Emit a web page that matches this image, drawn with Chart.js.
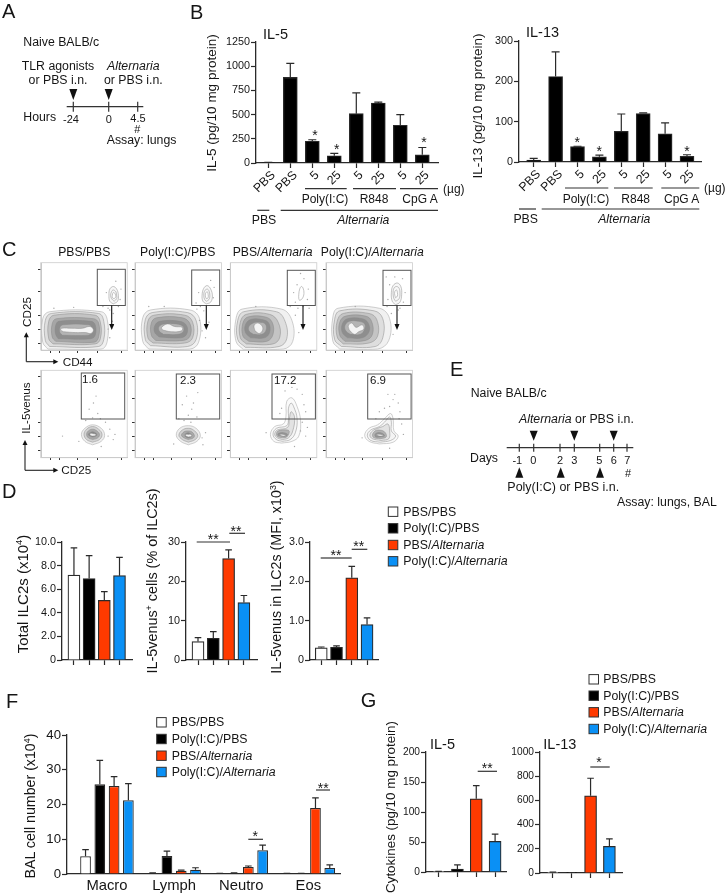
<!DOCTYPE html>
<html>
<head>
<meta charset="utf-8">
<title>Figure</title>
<script src="https://cdn.jsdelivr.net/npm/chart.js@4"></script>
<style>
  html, body { margin: 0; background: #fff; }
  #page { position: relative; width: 728px; height: 896px; overflow: hidden; font-family: "Liberation Sans", Arial, sans-serif; color: #151515; }
  #page canvas { position: absolute; }
  #page canvas.facs { filter: blur(0.45px); }
  #page svg { position: absolute; left: 0; top: 0; }
  .t { position: absolute; white-space: nowrap; line-height: 1; }
  sup { font-size: .62em; line-height: 0; vertical-align: .55em; }
</style>
</head>
<body>
<div id="page"></div>
<script>
// panel B
var doseLabels = ['PBS', 'PBS', '5', '25', '5', '25', '5', '25'];
var il5Values = [5, 885, 225, 75, 510, 620, 390, 85];
var il5Errors = [8, 1030, 240, 100, 725, 628, 500, 160];
var il5Ticks = ['0', '250', '500', '750', '1000', '1250'];
var il13Values = [5, 212, 38, 13, 76, 120, 70, 14];
var il13Errors = [9, 273, 39, 17, 119, 122, 97, 18];
var il13Ticks = ['0', '100', '200', '300'];

// panel D
var totalValues = [7.2, 6.9, 5.05, 7.15];
var totalErrors = [9.5, 8.85, 5.8, 8.7];
var totalTicks = ['0', '2.0', '4.0', '6.0', '8.0', '10.0'];
var percentValues = [4.7, 5.5, 25.8, 14.6];
var percentErrors = [5.7, 7.2, 28, 16.4];
var percentTicks = ['0', '10', '20', '30'];
var mfiValues = [0.31, 0.32, 2.09, 0.9];
var mfiErrors = [0.33, 0.36, 2.38, 1.07];
var mfiTicks = ['0', '1.0', '2.0', '3.0'];

// panel F
var balLabels = ['Macro', 'Lymph', 'Neutro', 'Eos'];
var balPbsPbs = [5.1, 0.2, 0.1, 0.1];
var balPbsPbsErr = [7, 0.3, 0.2, 0.2];
var balPolyPbs = [25.8, 5.2, 0.2, 0.1];
var balPolyPbsErr = [32.7, 6.6, 0.3, 0.2];
var balPbsAlt = [25.3, 0.9, 2, 19];
var balPbsAltErr = [28, 1.1, 2.3, 21.9];
var balPolyAlt = [21.2, 1.2, 6.8, 1.7];
var balPolyAltErr = [26, 1.8, 8.3, 2.6];
var balTicks = ['0', '10', '20', '30', '40'];

// panel G
var g5Values = [0.5, 5, 122, 51];
var g5Errors = [1, 12, 144, 63];
var g5Ticks = ['0', '50', '100', '150', '200'];
var g13Values = [5, 2, 638, 220];
var g13Errors = [8, 4, 783, 282];
var g13Ticks = ['0', '200', '400', '600', '800', '1000'];

// panel C, gate contours (percent of the frame)
var facsTicksX = [11, 22, 42, 66, 94];
var facsTicksY = [8, 24, 40, 67, 92];

var cd44Plot1 = [
  [[8,1],[70,1],[77,10],[77,35],[70,44],[10,44],[2,36],[2,9]],
  [[10,4],[67,4],[73,12],[73,33],[67,42],[12,42],[5,34],[5,11]],
  [[14,7],[63,7],[69,13],[69,32],[63,40],[15,40],[9,33],[9,13]],
  [[17,10],[62,9],[67,15],[67,31],[61,36],[18,36],[13,30],[13,15]],
  [[20,13],[58,13],[63,17],[63,29],[58,33],[21,33],[17,28],[17,18]],
  [[25,17],[55,17],[59,20],[59,26],[55,29],[26,29],[22,26],[22,20]],
  [[26,21],[40,20],[52,20],[58,19],[61,23],[57,27],[48,25],[36,25],[24,25],[23,23]]
];
var cd44Plot2 = [
  [[16,1],[64,1],[74,9],[75,36],[64,46],[18,46],[9,37],[9,10]],
  [[18,5],[61,4],[71,12],[71,34],[61,43],[20,43],[12,35],[12,12]],
  [[21,8],[58,8],[67,14],[67,32],[58,40],[22,40],[15,33],[15,14]],
  [[24,11],[56,11],[64,16],[64,30],[55,37],[25,37],[19,31],[19,17]],
  [[28,15],[53,14],[60,18],[60,28],[52,33],[29,33],[23,28],[23,20]],
  [[33,18],[50,18],[56,21],[56,27],[48,30],[34,30],[28,27],[28,22]],
  [[32,23],[42,21],[54,22],[55,26],[46,27],[38,30],[31,26]]
];
var cd44Plot3 = [
  [[16,0],[62,1],[73,10],[72,34],[60,47],[14,47],[7,36],[7,10]],
  [[18,3],[57,4],[66,13],[64,33],[54,44],[16,44],[9,34],[9,12]],
  [[19,7],[50,7],[58,15],[56,32],[46,41],[19,41],[12,32],[12,14]],
  [[22,10],[43,10],[50,18],[49,32],[41,38],[21,38],[15,31],[15,16]],
  [[24,14],[40,14],[46,20],[45,31],[37,35],[24,35],[18,29],[18,20]],
  [[27,18],[37,18],[42,23],[41,30],[34,32],[27,31],[22,27],[22,22]],
  [[29,22],[34,19],[38,23],[37,28],[32,31],[28,28]]
];
var cd44Plot4 = [
  [[16,1],[60,1],[73,11],[74,36],[62,48],[14,48],[8,38],[8,10]],
  [[18,4],[57,4],[66,14],[66,36],[56,45],[16,45],[10,35],[10,12]],
  [[20,7],[50,8],[60,16],[59,35],[50,42],[20,42],[13,33],[13,15]],
  [[22,10],[46,11],[54,18],[53,33],[46,39],[23,39],[16,32],[16,17]],
  [[25,14],[42,14],[50,21],[49,31],[42,36],[25,36],[19,30],[19,20]],
  [[28,18],[40,18],[45,24],[45,30],[38,33],[27,33],[22,28],[23,22]],
  [[27,23],[33,18],[38,21],[44,24],[42,29],[35,26],[30,31],[26,28]]
];
var cd44Gates = [
  [[[84,53],[89,56],[90,63],[88,70],[84,73],[80,70],[79,63],[80,56]],
   [[85,56],[88,59],[88,63],[87,67],[84,69],[82,67],[81,63],[82,59]],
   [[85,59],[87,61],[86,65],[84,66],[83,63],[83,60]]],
  [[[83,53],[88,55],[90,62],[88,70],[84,74],[80,71],[78,63],[79,56]],
   [[83,56],[86,58],[87,63],[86,68],[84,70],[81,68],[80,63],[81,58]],
   [[83,59],[85,60],[85,64],[84,67],[82,65],[82,61]]],
  [[[81,57],[84,59],[86,65],[85,71],[83,73],[81,70],[80,64],[80,59]]],
  [[[81,52],[86,55],[88,64],[87,73],[83,77],[78,74],[76,66],[77,56]],
   [[81,56],[85,59],[86,65],[85,71],[82,73],[79,71],[78,65],[79,59]],
   [[81,60],[83,62],[83,66],[82,69],[80,67],[80,63]]]
];
var cd44Dots = [
  [[72,50],[78,48],[92,58],[90,50],[76,66],[93,70],[87,79],[80,46],[84,42],[38,49],[15,48],[84,28],[80,14],[78,24],[83,33]],
  [[71,54],[76,50],[91,60],[72,47],[74,66],[92,72],[88,80],[80,45],[34,50],[16,50],[78,22],[82,14],[86,32],[75,34]],
  [[76,55],[90,58],[78,75],[86,82],[74,66],[91,70],[70,50],[85,50],[79,48],[82,88],[92,48],[80,20],[76,40],[30,50]],
  [[72,58],[90,55],[74,75],[89,82],[92,66],[71,50],[86,48],[80,84],[76,42],[84,46],[78,18],[34,50],[70,84]]
];

var venusPlot1 = [
  [[60,14],[70,18],[74,25],[70,33],[60,37],[51,33],[47,26],[51,18]],
  [[60,17],[68,20],[71,26],[67,32],[60,35],[53,32],[50,26],[53,20]],
  [[60,20],[66,22],[68,26],[65,30],[60,32],[55,30],[53,26],[55,22]],
  [[60,23],[64,24],[65,26],[63,28],[60,29],[57,28],[55,26],[57,24]],
  [[57,25],[60,24],[64,25],[64,26],[60,27],[57,27]]
];
var venusPlot2 = [
  [[62,14],[72,18],[76,25],[71,33],[62,36],[52,33],[48,25],[53,18]],
  [[62,17],[70,20],[73,25],[68,31],[62,33],[55,31],[51,25],[55,20]],
  [[62,20],[68,22],[69,25],[66,29],[62,30],[57,29],[54,25],[57,22]],
  [[62,22],[65,23],[66,25],[64,27],[62,28],[59,27],[58,25],[59,23]],
  [[59,24],[62,23],[66,24],[65,26],[62,26],[59,26]]
];
var venusPlot3 = [
  [[60,16],[72,18],[80,24],[82,42],[78,58],[72,68],[66,64],[65,46],[62,38],[52,35],[47,26],[51,18]],
  [[61,18],[70,20],[76,28],[78,44],[74,58],[71,62],[68,56],[68,44],[66,36],[54,33],[50,26],[54,20]],
  [[61,20],[68,22],[73,30],[75,46],[71,52],[69,44],[67,34],[55,31],[52,26],[55,22]],
  [[61,22],[66,23],[69,29],[67,31],[56,30],[54,26],[56,23]],
  [[60,24],[65,24],[67,26],[62,28],[56,27],[56,25]],
  [[58,25],[62,24],[65,25],[62,26],[58,26]]
];
var venusPlot4 = [
  [[62,15],[78,17],[84,24],[79,30],[78,44],[75,50],[68,44],[60,37],[50,33],[45,25],[50,18]],
  [[63,17],[75,19],[81,24],[76,30],[76,40],[74,46],[68,40],[62,35],[52,31],[48,25],[52,19]],
  [[64,19],[73,21],[74,30],[72,38],[66,35],[60,33],[54,30],[51,25],[54,21]],
  [[63,21],[70,23],[68,29],[60,31],[56,29],[54,25],[56,22]],
  [[63,23],[68,24],[66,27],[60,28],[57,26],[58,23]],
  [[59,25],[63,24],[67,25],[64,26],[59,26]]
];
var venusDots = [
  [[61,62],[56,55],[66,50],[60,45],[69,44],[52,42],[75,40],[64,70],[78,24],[84,20],[80,32],[86,26],[25,24],[44,18],[70,12]],
  [[60,70],[55,60],[66,55],[62,48],[72,46],[51,44],[57,42],[68,62],[65,40],[78,22],[82,28],[73,74],[45,15],[79,14]],
  [[78,78],[84,72],[72,80],[86,60],[88,52],[60,56],[84,40],[90,34],[82,30],[88,24],[58,50],[42,28],[75,12],[64,76]],
  [[78,66],[84,62],[72,72],[74,58],[68,56],[86,52],[62,52],[88,38],[90,26],[85,44],[58,44],[74,10],[42,22],[80,72]]
];

var ringFills = ['#f1f1f1', '#dedede', '#c4c4c4', '#a6a6a6', '#8e8e8e', '#b4b4b4', '#f4f4f4'];
var venusFills = ['#eeeeee', '#d2d2d2', '#a8a8a8', '#868686', '#f0f0f0'];
var tailFills = ['#fafafa', '#f4f4f4', '#e2e2e2', '#b2b2b2', '#949494', '#f0f0f0'];

var WHITE = '#ffffff', BLACK = '#000000', RED = '#ff3a00', BLUE = '#0a90f5', INK = '#2a2a2a';
var groupColors = [WHITE, BLACK, RED, BLUE];

var page = document.getElementById('page');
Chart.defaults.font.family = '"Liberation Sans", Arial, sans-serif';
Chart.defaults.color = '#151515';

Chart.register({
  id: 'errorBars',
  afterDatasetsDraw: function (chart) {
    var ctx = chart.ctx;
    chart.data.datasets.forEach(function (ds, d) {
      if (!ds.errors) return;
      chart.getDatasetMeta(d).data.forEach(function (bar, i) {
        var py = chart.scales.y.getPixelForValue(ds.errors[i]);
        ctx.save();
        ctx.strokeStyle = INK;
        ctx.lineWidth = 1.2;
        ctx.beginPath();
        ctx.moveTo(bar.x, bar.y);
        ctx.lineTo(bar.x, py);
        ctx.moveTo(bar.x - ds.cap, py);
        ctx.lineTo(bar.x + ds.cap, py);
        ctx.stroke();
        ctx.restore();
      });
    });
  }
});

function addCanvas(left, top, w, h) {
  var c = document.createElement('canvas');
  c.width = w; c.height = h;
  c.style.left = left + 'px';
  c.style.top = top + 'px';
  page.appendChild(c);
  return c;
}

// o.x0/x1/top/bottom are the page pixels of the plot, c0 and band place the bars on it
function barPanel(o) {
  var AXW = 40, PADT = 10, PADR = 14, BOT = o.bot || 12;
  var c = addCanvas(o.x0 - AXW, o.top - PADT, o.x1 - o.x0 + AXW + PADR, o.bottom - o.top + PADT + BOT);
  var labels = o.labels;
  var datasets = o.series.map(function (s) {
    var d = {
      data: s.values.map(function (v, i) { return { x: i, y: v }; }),
      errors: s.errors,
      cap: o.cap,
      backgroundColor: s.color,
      borderColor: INK,
      borderWidth: 1.2
    };
    if (o.barW) d.barThickness = o.barW;
    else { d.categoryPercentage = o.catPct; d.barPercentage = o.barPct; }
    return d;
  });
  new Chart(c, {
    type: 'bar',
    data: { datasets: datasets },
    options: {
      responsive: false,
      animation: false,
      layout: { padding: { top: PADT, right: PADR, left: 0, bottom: 0 } },
      plugins: { legend: { display: false }, tooltip: { enabled: false } },
      scales: {
        x: {
          type: 'linear',
          offset: false,
          min: (o.x0 - o.c0) / o.band,
          max: (o.x1 - o.c0) / o.band,
          afterBuildTicks: function (s) {
            s.ticks = o.series[0].values.map(function (v, i) { return { value: i }; });
          },
          afterFit: function (s) { s.height = BOT; },
          border: { color: INK, width: 1.3 },
          grid: { offset: false, drawOnChartArea: false, drawTicks: !o.noTicks, tickLength: 5, tickColor: INK, tickWidth: 1.2 },
          ticks: {
            display: !!labels,
            autoSkip: false,
            padding: o.xPad || 0,
            labelOffset: o.rot ? 5 : 0,
            minRotation: o.rot || 0,
            maxRotation: o.rot || 0,
            font: { size: o.xSize || 12.3 },
            callback: function (v) { return labels ? labels[v] : ''; }
          }
        },
        y: {
          min: 0,
          max: o.yMax,
          afterFit: function (s) { s.width = AXW; },
          border: { color: INK, width: 1.3 },
          grid: { drawOnChartArea: false, tickLength: 5, tickColor: INK, tickWidth: 1.2 },
          ticks: {
            stepSize: o.yMax / (o.ticks.length - 1),
            padding: 1,
            font: { size: o.ySize || 10.8 },
            callback: function (v, i) { return o.ticks[i]; }
          }
        }
      }
    }
  });
}

function facsPlot(left, top, w, h, rings, fills, extra, dots) {
  var M = 6;
  var c = addCanvas(left - M, top - M, w + 2 * M, h + 2 * M);
  c.className = 'facs';
  var sets = [];
  var add = function (pts, fill, line, order) {
    sets.push({
      data: pts.concat([pts[0]]).map(function (p) { return { x: p[0], y: p[1] }; }),
      showLine: true, tension: 0.4, pointRadius: 0,
      borderWidth: 0.5, borderColor: line,
      backgroundColor: fill, fill: 'shape', order: order
    });
  };
  rings.forEach(function (r, i) { add(r, fills[i], i === 0 ? '#a0a0a0' : '#888888', 40 - i); });
  extra.forEach(function (r, i) { add(r, i === extra.length - 1 ? '#ffffff' : '#f7f7f7', '#8a8a8a', 10 - i); });
  sets.push({
    data: dots.map(function (p) { return { x: p[0], y: p[1] }; }),
    pointRadius: 0.7, pointBackgroundColor: '#a8a8a8', pointBorderWidth: 0, order: 0
  });
  var marks = function (vals) {
    return function (s) { s.ticks = vals.map(function (v) { return { value: v }; }); };
  };
  var axis = function (vals, key) {
    var cfg = {
      min: 0, max: 100,
      afterBuildTicks: marks(vals),
      border: { color: '#c8c8c8', width: 1 },
      grid: { drawOnChartArea: false, tickLength: 3, tickColor: '#333333', tickWidth: 1 },
      ticks: { display: false }
    };
    cfg.afterFit = function (s) { if (key === 'x') s.height = M; else s.width = M; };
    return cfg;
  };
  new Chart(c, {
    type: 'scatter',
    data: { datasets: sets },
    options: {
      responsive: false,
      animation: false,
      layout: { padding: { top: M, right: M, left: 0, bottom: 0 } },
      plugins: { legend: { display: false }, tooltip: { enabled: false } },
      scales: { x: axis(facsTicksX, 'x'), y: axis(facsTicksY, 'y') }
    }
  });
}

// ---- bars
function one(values, errors) {
  return [{ values: values, errors: errors, color: groupColors }];
}
barPanel({ x0: 256, x1: 438, top: 41.7, bottom: 163, yMax: 1250, ticks: il5Ticks, labels: doseLabels, rot: 45, bot: 40,
  c0: 268.3, band: 22, barW: 14, cap: 4, series: [{ values: il5Values, errors: il5Errors, color: BLACK }] });
barPanel({ x0: 519, x1: 701, top: 40.7, bottom: 162.3, yMax: 300, ticks: il13Ticks, labels: doseLabels, rot: 45, bot: 40,
  c0: 533.7, band: 21.9, barW: 14, cap: 4, series: [{ values: il13Values, errors: il13Errors, color: BLACK }] });

barPanel({ x0: 61.7, x1: 132, top: 542.3, bottom: 660.3, yMax: 10, ticks: totalTicks, c0: 73.7, band: 15.25, barW: 12, cap: 3.3, series: one(totalValues, totalErrors) });
barPanel({ x0: 186, x1: 257, top: 542, bottom: 660.3, yMax: 30, ticks: percentTicks, c0: 198, band: 15.3, barW: 12, cap: 3.3, series: one(percentValues, percentErrors) });
barPanel({ x0: 310, x1: 378.3, top: 541.7, bottom: 660, yMax: 3, ticks: mfiTicks, c0: 321.3, band: 15.33, barW: 12, cap: 3.3, series: one(mfiValues, mfiErrors) });

barPanel({ x0: 66.7, x1: 340, top: 735, bottom: 874.3, yMax: 40, ticks: balTicks, labels: balLabels, ySize: 13.2, xSize: 14.8, bot: 24, noTicks: true, xPad: 3,
  c0: 106.7, band: 67.2, catPct: 0.851, barPct: 0.75, cap: 3.3,
  series: [
    { values: balPbsPbs, errors: balPbsPbsErr, color: WHITE },
    { values: balPolyPbs, errors: balPolyPbsErr, color: BLACK },
    { values: balPbsAlt, errors: balPbsAltErr, color: RED },
    { values: balPolyAlt, errors: balPolyAltErr, color: BLUE }
  ] });

barPanel({ x0: 426, x1: 506.7, top: 752, bottom: 872.7, yMax: 200, ticks: g5Ticks, ySize: 10.2, c0: 438.7, band: 19, barW: 12, cap: 3.3, series: one(g5Values, g5Errors) });
barPanel({ x0: 540, x1: 622.7, top: 752, bottom: 873, yMax: 1000, ticks: g13Ticks, ySize: 10.2, c0: 553, band: 19, barW: 12, cap: 3.3, series: one(g13Values, g13Errors) });

// ---- facs plots
var rowTopY = 262.7, rowBotY = 370.3, frameW = 86.5, frameH = 87.4;
var frameX = [40.7, 135, 230.3, 326];
var topRings = [cd44Plot1, cd44Plot2, cd44Plot3, cd44Plot4];
var botRings = [venusPlot1, venusPlot2, venusPlot3, venusPlot4];
frameX.forEach(function (x, i) {
  facsPlot(x, rowTopY, frameW, frameH, topRings[i], ringFills, cd44Gates[i], cd44Dots[i]);
  facsPlot(x, rowBotY, frameW, frameH, botRings[i], i < 2 ? venusFills : tailFills, [], venusDots[i]);
});

// ---- overlay
var NS = 'http://www.w3.org/2000/svg';
var svg = document.createElementNS(NS, 'svg');
svg.setAttribute('width', 728);
svg.setAttribute('height', 896);
page.appendChild(svg);
function el(name, attrs) {
  var e = document.createElementNS(NS, name);
  for (var k in attrs) e.setAttribute(k, attrs[k]);
  svg.appendChild(e);
}
function line(x1, y1, x2, y2, color, w) {
  el('line', { x1: x1, y1: y1, x2: x2, y2: y2, stroke: color || '#333', 'stroke-width': w || 1.2 });
}
function box(x1, y1, x2, y2, color, w, fill) {
  el('rect', { x: x1, y: y1, width: x2 - x1, height: y2 - y1, stroke: color || '#333', 'stroke-width': w || 1.2, fill: fill || 'none' });
}
function tri(pts) {
  el('polygon', { points: pts, fill: '#111' });
}
function down(x, y1, y2) { tri((x - 4) + ',' + y1 + ' ' + (x + 4) + ',' + y1 + ' ' + x + ',' + y2); }
function up(x, y1, y2) { tri((x - 4) + ',' + y2 + ' ' + (x + 4) + ',' + y2 + ' ' + x + ',' + y1); }
function T(x, y, html, size, opt) {
  opt = opt || {};
  var d = document.createElement('div');
  d.className = 't';
  d.innerHTML = html;
  d.style.left = x + 'px';
  d.style.top = y + 'px';
  d.style.fontSize = size + 'px';
  d.style.transform = opt.r ? 'translate(-50%,-50%) rotate(-90deg)' : (opt.c ? 'translate(-50%,-50%)' : 'translateY(-50%)');
  page.appendChild(d);
}
function star(x, y, s) { T(x, y + 3, s, 14, { c: 1 }); }
function sig(x1, x2, y, s, sx, sy) { line(x1, y, x2, y); star(sx, sy, s); }

// panel letters
T(2, 11, 'A', 20); T(190, 11.7, 'B', 20); T(2, 249.3, 'C', 20); T(2, 490.7, 'D', 20);
T(450, 369, 'E', 20); T(6, 700.7, 'F', 20); T(360.7, 700, 'G', 20);

// panel A
var S = 12.3;
T(23.3, 42, 'Naive BALB/c', S);
T(58, 65.7, 'TLR agonists', S, { c: 1 }); T(58, 79.7, 'or PBS i.n.', S, { c: 1 });
T(133.3, 66, '<i>Alternaria</i>', S, { c: 1 }); T(133.3, 80, 'or PBS i.n.', S, { c: 1 });
down(73.3, 89, 100); down(108.7, 89, 100);
line(66.7, 106.7, 143.3, 106.7);
[73.3, 108.7, 137.7].forEach(function (x) { line(x, 101.7, x, 111.7); });
T(23.3, 117.3, 'Hours', S);
T(71, 118.7, '-24', 11, { c: 1 }); T(108.7, 118.7, '0', 11, { c: 1 }); T(138, 118, '4.5', 11, { c: 1 });
T(137.3, 129.3, '#', 11, { c: 1 });
T(106.7, 140, 'Assay: lungs', S);

// panel B
T(263, 34.3, 'IL-5', 14.5); T(526, 31.7, 'IL-13', 14.5);
T(212, 103, 'IL-5 (pg/10 mg protein)', 13.5, { r: 1 });
T(478.3, 105.8, 'IL-13 (pg/10 mg protein)', 13.5, { r: 1 });
star(315, 132, '*'); star(336.7, 145.7, '*'); star(424, 139.3, '*');
star(577.3, 139.3, '*'); star(599.3, 147.7, '*'); star(687, 147.7, '*');
[[305, 346.7], [353, 396], [400, 438]].forEach(function (p) { line(p[0], 188.7, p[1], 188.7); });
[[565, 608.3], [614, 652.7], [661.3, 699.3]].forEach(function (p) { line(p[0], 188, p[1], 188); });
T(325, 199.3, 'Poly(I:C)', 12, { c: 1 }); T(374, 199.3, 'R848', 12, { c: 1 }); T(420, 199.3, 'CpG A', 12, { c: 1 });
T(586, 198.7, 'Poly(I:C)', 12, { c: 1 }); T(635.7, 198.7, 'R848', 12, { c: 1 }); T(681.7, 198.7, 'CpG A', 12, { c: 1 });
T(443, 188.7, '(µg)', 12); T(704, 188, '(µg)', 12);
line(257.3, 210.3, 269.3, 210.3); line(280.7, 210.3, 438, 210.3);
line(519, 209, 536, 209); line(541.7, 209, 699.3, 209);
T(264, 219.7, 'PBS', 12.3, { c: 1 }); T(363.3, 219.7, '<i>Alternaria</i>', 12.2, { c: 1 });
T(525.7, 218.7, 'PBS', 12.3, { c: 1 }); T(624.3, 218.7, '<i>Alternaria</i>', 12.2, { c: 1 });

// panel C
T(84.3, 251.7, 'PBS/PBS', 12.2, { c: 1 }); T(177.7, 251.7, 'Poly(I:C)/PBS', 12.2, { c: 1 });
T(272.7, 251.7, 'PBS/<i>Alternaria</i>', 12.2, { c: 1 }); T(372.3, 251.7, 'Poly(I:C)/<i>Alternaria</i>', 12.2, { c: 1 });
frameX.forEach(function (x) {
  box(x, rowTopY, x + frameW, rowTopY + frameH, '#cccccc', 0.8);
  box(x, rowBotY, x + frameW, rowBotY + frameH, '#cccccc', 0.8);
});
[[97.3, 269.3, 111.7], [191.7, 270, 206.3], [287.3, 270.3, 303], [383, 270.3, 397]].forEach(function (g) {
  box(g[0], g[1], g[0] + 28, 305.5, '#555', 1);
  line(g[2], 305.5, g[2], 325, '#111', 1.1);
  tri((g[2] - 2.5) + ',324 ' + (g[2] + 2.5) + ',324 ' + g[2] + ',330');
});
[[81.3, 373], [176.3, 374], [272, 374], [367.7, 374]].forEach(function (g) {
  box(g[0], g[1], g[0] + 43.4, 419, '#555', 1);
});
T(82, 380, '1.6', 11.5); T(180, 381, '2.3', 11.5); T(274, 381, '17.2', 11.5); T(370, 381, '6.9', 11.5);
function facsAxes(x, yTop, yCorner, xEnd) {
  line(x, yTop + 4, x, yCorner, '#222', 1.1);
  line(x, yCorner, xEnd - 4, yCorner, '#222', 1.1);
  tri((x - 2.5) + ',' + (yTop + 5) + ' ' + (x + 2.5) + ',' + (yTop + 5) + ' ' + x + ',' + yTop);
  tri((xEnd - 5) + ',' + (yCorner - 2.5) + ' ' + (xEnd - 5) + ',' + (yCorner + 2.5) + ' ' + xEnd + ',' + yCorner);
}
facsAxes(26.3, 332.3, 361.7, 58.3); facsAxes(25, 440, 470.3, 58.3);
T(26.7, 311.7, 'CD25', 11.7, { r: 1 }); T(62.7, 361.7, 'CD44', 11.7);
T(26, 408.3, 'IL-5venus', 11.7, { r: 1 }); T(61.3, 470, 'CD25', 11.7);

// panel D
T(22, 594, 'Total ILC2s (x10<sup>4</sup>)', 15, { r: 1 });
T(151.7, 581, 'IL-5venus<sup>+</sup> cells (% of ILC2s)', 14.4, { r: 1 });
T(276, 577, 'IL-5venus in ILC2s (MFI, x10<sup>3</sup>)', 14.3, { r: 1 });
sig(196.7, 230, 542, '**', 213.3, 536); sig(229.3, 245, 533.3, '**', 236, 527.7);
sig(320.7, 351.7, 558, '**', 336, 551.7); sig(351.7, 367.3, 549.3, '**', 358.7, 543.3);
function legend(sx, tx, ys, size) {
  var names = ['PBS/PBS', 'Poly(I:C)/PBS', 'PBS/<i>Alternaria</i>', 'Poly(I:C)/<i>Alternaria</i>'];
  ys.forEach(function (y, i) {
    box(sx, y - 4.7, sx + 9.5, y + 4.7, '#333', 1, groupColors[i]);
    T(tx, y, names[i], size);
  });
}
legend(388.3, 403.3, [511.7, 528.3, 545, 561.3], 12.35);

// panel E
T(470.7, 393, 'Naive BALB/c', S);
T(519, 418.7, '<i>Alternaria</i> or PBS i.n.', S);
[533.7, 574.3, 613.7].forEach(function (x) { down(x, 430.7, 440.7); });
line(506.7, 447.7, 633.3, 447.7);
[519.3, 533.7, 560, 574.3, 599.7, 613.7, 627].forEach(function (x) { line(x, 443.7, x, 451.7); });
T(470, 458.3, 'Days', S);
[[517.3, '-1'], [533.3, '0'], [560, '2'], [574.3, '3'], [599.3, '5'], [613.7, '6'], [627.3, '7']].forEach(function (d) {
  T(d[0], 460, d[1], 11, { c: 1 });
});
[519.3, 560.7, 600].forEach(function (x) { up(x, 467.3, 477.7); });
T(628, 472.7, '#', 11, { c: 1 });
T(507.3, 487, 'Poly(I:C) or PBS i.n.', 12.5);
T(617, 501.7, 'Assay: lungs, BAL', 12.3);

// panel F
T(30, 805.8, 'BAL cell number (x10<sup>4</sup>)', 14.2, { r: 1 });
legend(156.7, 171.7, [722.3, 739, 755.7, 772], 12.3);
sig(248.3, 263, 839.3, '*', 255.3, 833); sig(316, 330, 790, '**', 323.3, 784.7);

// panel G
legend(589, 603.3, [679.3, 695.7, 712.3, 729], 12.3);
T(430, 744, 'IL-5', 14.5); T(543.3, 744, 'IL-13', 14.5);
T(390.7, 806.7, 'Cytokines (pg/10 mg protein)', 13.4, { r: 1 });
sig(477.7, 497, 771.3, '**', 487.3, 765.3); sig(590.3, 609.7, 767, '*', 599, 759.3);
</script>
</body>
</html>
